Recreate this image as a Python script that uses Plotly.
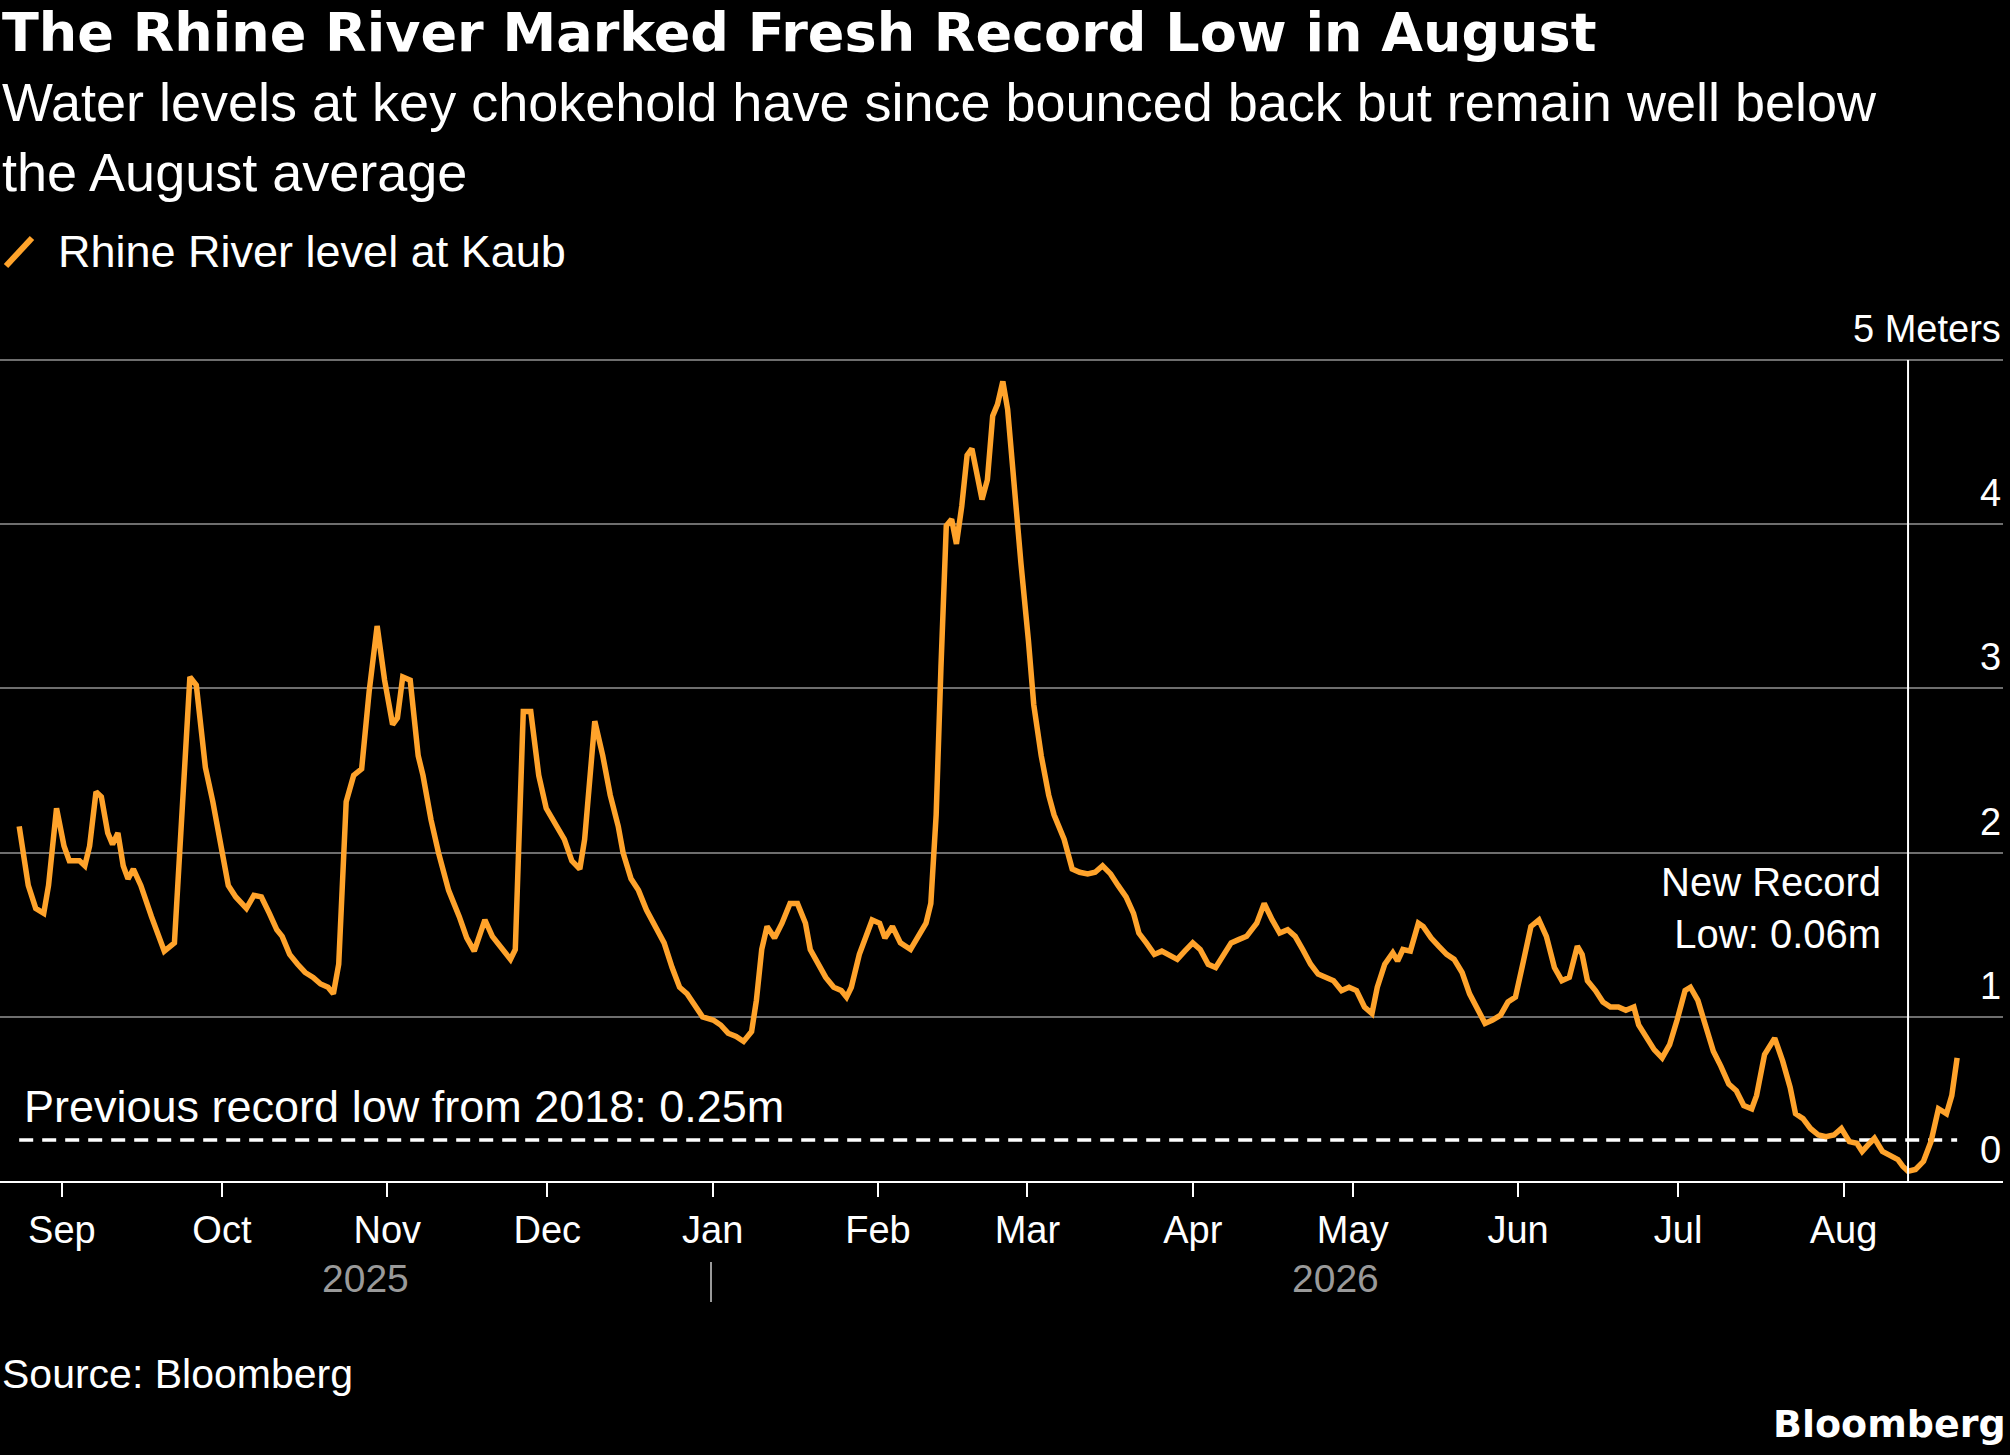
import plotly.graph_objects as go
import pandas as pd

start = pd.Timestamp("2025-08-24")
days = [0,1.7,3.1,4.6,5.5,7.0,8.4,9.4,11.3,12.3,13.2,14.4,15.4,16.6,17.5,18.5,19.5,20.4,21.4,22.8,24.8,26.2,27.2,29.1,30.5,32.0,33.2,34.9,36.3,37.7,39.2,40.6,42.6,44.0,45.4,46.9,48.3,49.3,50.7,52.2,53.6,55.1,56.5,57.9,58.9,59.9,61.3,62.7,64.2,65.6,67.1,68.5,70.0,70.9,71.9,73.3,74.8,75.7,77.2,78.6,80.5,82.5,83.9,85.3,87.3,88.7,90.6,92.1,93.0,94.5,95.9,97.4,98.8,100.7,102.2,103.6,105.1,106.0,107.9,109.4,110.8,112.3,113.2,114.7,116.1,117.6,119.5,120.9,122.4,123.8,125.2,126.7,128.1,130.1,131.5,132.9,134.4,135.8,137.3,138.2,139.2,140.2,141.6,143.0,144.5,145.9,147.4,148.3,149.8,151.2,152.7,154.1,155.1,156.0,157.5,158.9,159.9,161.3,162.3,163.7,165.2,167.1,168.5,170.0,170.9,171.9,172.8,173.8,174.8,175.7,176.7,177.7,178.6,179.6,180.5,181.5,182.5,183.4,184.4,185.3,186.3,187.8,189.2,190.2,191.6,193.0,194.0,195.9,197.4,198.8,200.3,201.7,203.1,204.6,206.0,207.5,208.9,209.9,211.3,212.8,214.2,215.6,217.1,218.5,220.0,221.4,222.9,224.3,225.7,227.2,228.6,230.1,232.0,233.4,234.9,236.3,237.8,239.2,240.6,242.1,243.5,245.0,246.4,247.9,249.3,250.7,252.2,253.6,254.6,256.0,257.5,258.4,259.4,260.8,262.3,263.2,264.7,266.1,267.6,269.0,270.5,271.9,273.3,274.8,276.2,277.7,279.1,280.5,282.0,283.4,284.9,286.3,287.8,289.2,290.6,292.1,293.0,294.0,295.5,296.9,298.3,299.8,301.2,302.7,303.6,305.1,306.5,308.0,309.4,310.8,312.3,313.3,314.7,316.1,317.6,319.0,320.5,321.9,323.3,324.8,325.7,327.2,329.1,330.6,332.0,333.0,334.4,335.8,337.3,338.7,340.2,341.6,343.1,344.5,345.5,346.9,347.8,349.3,350.8,352.2,353.1,354.1,355.5,357.0,358.4,359.8,361.3,362.3,363.3]
levels = [2.16,1.80,1.66,1.63,1.80,2.27,2.04,1.95,1.95,1.92,2.04,2.37,2.34,2.12,2.05,2.12,1.92,1.84,1.90,1.80,1.61,1.49,1.40,1.45,2.27,3.07,3.02,2.52,2.31,2.04,1.80,1.73,1.66,1.74,1.73,1.63,1.53,1.49,1.38,1.32,1.27,1.24,1.20,1.18,1.14,1.32,2.31,2.47,2.51,2.98,3.38,3.05,2.78,2.82,3.07,3.05,2.59,2.47,2.20,2.00,1.77,1.61,1.48,1.40,1.59,1.49,1.41,1.35,1.41,2.86,2.86,2.47,2.27,2.16,2.08,1.95,1.90,2.08,2.80,2.59,2.35,2.16,2.00,1.84,1.77,1.65,1.53,1.45,1.30,1.18,1.14,1.06,1.00,0.98,0.95,0.90,0.88,0.85,0.91,1.10,1.41,1.55,1.48,1.57,1.69,1.69,1.57,1.41,1.32,1.24,1.18,1.16,1.12,1.18,1.38,1.51,1.59,1.57,1.48,1.55,1.45,1.41,1.49,1.57,1.69,2.23,3.13,3.99,4.03,3.88,4.11,4.42,4.46,4.30,4.15,4.27,4.66,4.73,4.87,4.70,4.30,3.76,3.29,2.90,2.59,2.35,2.23,2.08,1.90,1.88,1.87,1.88,1.92,1.87,1.80,1.73,1.63,1.51,1.45,1.38,1.40,1.38,1.35,1.40,1.45,1.41,1.32,1.30,1.38,1.45,1.47,1.49,1.57,1.69,1.59,1.51,1.53,1.49,1.41,1.32,1.26,1.24,1.22,1.16,1.18,1.16,1.06,1.02,1.18,1.32,1.39,1.34,1.41,1.40,1.57,1.55,1.48,1.43,1.38,1.35,1.27,1.14,1.06,0.96,0.98,1.01,1.09,1.12,1.34,1.55,1.59,1.49,1.30,1.22,1.24,1.43,1.38,1.22,1.16,1.09,1.06,1.06,1.04,1.06,0.95,0.87,0.80,0.75,0.83,0.98,1.16,1.18,1.10,0.95,0.79,0.70,0.59,0.55,0.46,0.44,0.52,0.77,0.87,0.73,0.57,0.41,0.38,0.32,0.28,0.27,0.28,0.32,0.24,0.23,0.18,0.23,0.26,0.18,0.15,0.13,0.09,0.06,0.07,0.12,0.24,0.44,0.41,0.52,0.75]
month_ticks = ["2025-09-01","2025-10-01","2025-11-01","2025-12-01","2026-01-01","2026-02-01","2026-03-01","2026-04-01","2026-05-01","2026-06-01","2026-07-01","2026-08-01"]
month_labels = ["Sep","Oct","Nov","Dec","Jan","Feb","Mar","Apr","May","Jun","Jul","Aug"]
y_ticks = [0,1,2,3,4,5]
prev_low = 0.25
record_day = 354.1

dates = [start + pd.Timedelta(days=d) for d in days]
x0 = start + pd.Timedelta(days=-3.6)
x1 = start + pd.Timedelta(days=371.9)
rec = start + pd.Timedelta(days=record_day)

W, H = 2010, 1455
L, R, T, B = 0, 7, 355, 274
PW, PH = W - L - R, H - T - B
def px(x): return (x - L) / PW
def py(y): return (H - B - y) / PH
YMAX = 5 * (1181 - 355) / (1181 - 360)

FONT = "Liberation Sans"
fig = go.Figure()
fig.add_trace(go.Scatter(x=[dates[0], dates[-1]], y=[prev_low, prev_low], mode="lines",
                         line=dict(color="white", width=3.5, dash="14px,9px"), hoverinfo="skip"))
fig.add_trace(go.Scatter(x=dates, y=levels, mode="lines",
                         line=dict(color="#FFA32B", width=5.5), hoverinfo="skip"))
fig.add_shape(type="line", x0=rec, x1=rec, y0=0, y1=5, line=dict(color="white", width=2))

ann = []
for v in y_ticks:
    lab = "5 Meters" if v == 5 else str(v)
    ann.append(dict(x=1, xref="paper", y=v, yref="y", text=lab, showarrow=False,
                    xanchor="right", yanchor="bottom", yshift=8, font=dict(size=38, color="white")))
ann += [
    dict(x=px(0), y=py(66), xref="paper", yref="paper", text="<b>The Rhine River Marked Fresh Record Low in August</b>",
         showarrow=False, xanchor="left", yanchor="bottom", font=dict(size=54, color="white", family="DejaVu Sans")),
    dict(x=px(0), y=py(70), xref="paper", yref="paper",
         text="Water levels at key chokehold have since bounced back but remain well below<br>the August average",
         showarrow=False, xanchor="left", yanchor="top", align="left", font=dict(size=54, color="white")),
    dict(x=px(56), y=py(252), xref="paper", yref="paper", text="Rhine River level at Kaub",
         showarrow=False, xanchor="left", yanchor="middle", font=dict(size=45, color="white")),
    dict(x=px(1883), y=py(858), xref="paper", yref="paper", text="New Record<br>Low: 0.06m",
         showarrow=False, xanchor="right", yanchor="top", align="right", font=dict(size=40, color="white")),
    dict(x=px(22), y=py(1134), xref="paper", yref="paper", text="Previous record low from 2018: 0.25m",
         showarrow=False, xanchor="left", yanchor="bottom", font=dict(size=45, color="white")),
    dict(x=px(365), y=py(1278), xref="paper", yref="paper", text="2025",
         showarrow=False, xanchor="center", yanchor="middle", font=dict(size=39, color="#9a9a9a")),
    dict(x=px(1335), y=py(1278), xref="paper", yref="paper", text="2026",
         showarrow=False, xanchor="center", yanchor="middle", font=dict(size=39, color="#9a9a9a")),
    dict(x=px(0), y=py(1374), xref="paper", yref="paper", text="Source: Bloomberg",
         showarrow=False, xanchor="left", yanchor="middle", font=dict(size=41, color="white")),
    dict(x=px(2008), y=py(1424), xref="paper", yref="paper", text="<b>Bloomberg</b>",
         showarrow=False, xanchor="right", yanchor="middle", font=dict(size=38, color="white", family="DejaVu Sans")),
]
fig.add_shape(type="line", xref="paper", yref="paper", x0=px(711), x1=px(711), y0=py(1262), y1=py(1302),
              line=dict(color="#9a9a9a", width=2))
fig.add_shape(type="line", xref="paper", yref="paper", x0=px(6), x1=px(32), y0=py(266), y1=py(238),
              line=dict(color="#FFA32B", width=6))

fig.update_layout(
    width=W, height=H, paper_bgcolor="black", plot_bgcolor="black",
    margin=dict(l=L, r=R, t=T, b=B), showlegend=False, annotations=ann,
    font=dict(family=FONT, color="white"),
    xaxis=dict(range=[x0, x1], tickvals=month_ticks, ticktext=month_labels, ticks="outside",
               ticklen=14, tickwidth=2, tickcolor="white", showgrid=False, showline=True,
               linecolor="white", linewidth=2, tickfont=dict(size=38, color="white"), zeroline=False),
    yaxis=dict(range=[0, YMAX], tickvals=y_ticks, showticklabels=False, showgrid=True,
               gridcolor="#6e6e6e", gridwidth=2, zeroline=False, fixedrange=True),
)
fig.write_html("out.html", config={"displayModeBar": False})
with open("out.html", encoding="utf-8") as f:
    html = f.read()
html = html.replace("<head>", "<head><style>html,body{margin:0;padding:0;background:black;}</style>", 1)
with open("out.html", "w", encoding="utf-8") as f:
    f.write(html)
